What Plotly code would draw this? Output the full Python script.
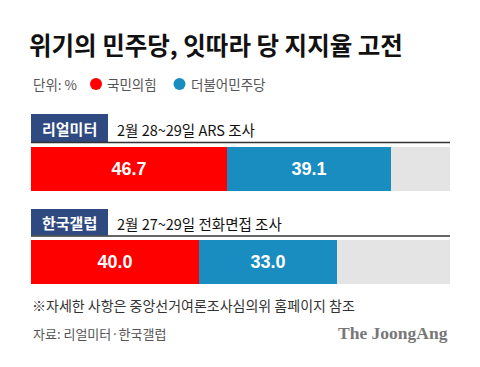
import plotly.graph_objects as go

# ---- data ----
pollsters = ["리얼미터", "한국갤럽"]
survey_notes = ["2월 28~29일 ARS 조사", "2월 27~29일 전화면접 조사"]
ppp = [46.7, 40.0]        # 국민의힘
dpk = [39.1, 33.0]        # 더불어민주당
rest = [round(100 - a - b, 1) for a, b in zip(ppp, dpk)]

title = "위기의 민주당, 잇따라 당 지지율 고전"
unit_label = "단위: %"
series_names = ["국민의힘", "더불어민주당"]
footnote = "※자세한 사항은 중앙선거여론조사심의위 홈페이지 참조"
source = "자료: 리얼미터·한국갤럽"
brand = "The JoongAng"

RED = "#FF0000"
BLUE = "#1A8DC0"
GRAY = "#E4E4E4"
NAVY = "#2F4A80"

W, H = 480, 367
KFONT = "Noto Sans CJK KR"

def py(p):  # pixel-from-top -> paper y
    return 1 - p / H

def px(p):
    return p / W

x0, x1 = 31, 450
c0, c1 = 169, 262.5
step = c1 - c0
ytop = c0 - step / 2
ybot = c1 + step / 2

fig = go.Figure()
fig.add_trace(go.Bar(y=pollsters, x=ppp, orientation="h", name=series_names[0],
                     marker=dict(color=RED, line=dict(width=0)),
                     text=[f"{v:.1f}" for v in ppp], textposition="inside",
                     insidetextanchor="middle",
                     textfont=dict(color="white", size=18, family="Liberation Sans", weight="bold"),
                     width=0.47))
fig.add_trace(go.Bar(y=pollsters, x=dpk, orientation="h", name=series_names[1],
                     marker=dict(color=BLUE, line=dict(width=0)),
                     text=[f"{v:.1f}" for v in dpk], textposition="inside",
                     insidetextanchor="middle",
                     textfont=dict(color="white", size=18, family="Liberation Sans", weight="bold"),
                     width=0.47))
fig.add_trace(go.Bar(y=pollsters, x=rest, orientation="h", name="기타",
                     marker=dict(color=GRAY, line=dict(width=0)),
                     hoverinfo="skip", width=0.47))

shapes = []
annotations = []

# title
annotations.append(dict(x=px(27), y=py(44), xref="paper", yref="paper", text=title,
                        showarrow=False, xanchor="left", yanchor="middle",
                        font=dict(family=KFONT, size=24.5, color="#111111", weight="bold")))
# legend row
annotations.append(dict(x=px(31), y=py(84), xref="paper", yref="paper", text=unit_label,
                        showarrow=False, xanchor="left", yanchor="middle",
                        font=dict(family=KFONT, size=13.5, color="#555555")))
for cx, col, name in [(96, RED, series_names[0]), (179.5, BLUE, series_names[1])]:
    shapes.append(dict(type="circle", xref="paper", yref="paper",
                       x0=px(cx - 6), x1=px(cx + 6), y0=py(84 + 6), y1=py(84 - 6),
                       fillcolor=col, line=dict(width=0)))
    annotations.append(dict(x=px(cx + 9), y=py(84), xref="paper", yref="paper", text=name,
                            showarrow=False, xanchor="left", yanchor="middle",
                            font=dict(family=KFONT, size=13.5, color="#555555")))

# section headers
for i, (name, note) in enumerate(zip(pollsters, survey_notes)):
    btop = [114, 209][i]
    bbot = [142, 235.5][i]
    shapes.append(dict(type="rect", xref="paper", yref="paper",
                       x0=px(31), x1=px(108), y0=py(bbot), y1=py(btop),
                       fillcolor=NAVY, line=dict(width=0)))
    shapes.append(dict(type="line", xref="paper", yref="paper",
                       x0=px(31), x1=px(450), y0=py(bbot + 0.5), y1=py(bbot + 0.5),
                       line=dict(color="#333333", width=1.5)))
    annotations.append(dict(x=px(69.5), y=py((btop + bbot) / 2), xref="paper", yref="paper",
                            text=name, showarrow=False, xanchor="center", yanchor="middle",
                            font=dict(family=KFONT, size=15, color="white", weight="bold")))
    annotations.append(dict(x=px(115), y=py((btop + bbot) / 2 + 1), xref="paper", yref="paper",
                            text=note, showarrow=False, xanchor="left", yanchor="middle",
                            font=dict(family=KFONT, size=14.5, color="#111111")))

# footnote and source
annotations.append(dict(x=px(30), y=py(305), xref="paper", yref="paper", text=footnote,
                        showarrow=False, xanchor="left", yanchor="middle",
                        font=dict(family=KFONT, size=14, color="#333333")))
annotations.append(dict(x=px(31), y=py(333), xref="paper", yref="paper", text=source,
                        showarrow=False, xanchor="left", yanchor="middle",
                        font=dict(family=KFONT, size=13, color="#555555")))
annotations.append(dict(x=px(450), y=py(333), xref="paper", yref="paper", text=brand,
                        showarrow=False, xanchor="right", yanchor="middle",
                        font=dict(family="Liberation Serif", size=17.5, color="#777777", weight="bold")))

fig.update_layout(
    width=W, height=H, margin=dict(l=0, r=0, t=0, b=0),
    paper_bgcolor="white", plot_bgcolor="white",
    barmode="stack", bargap=0, showlegend=False,
    xaxis=dict(range=[0, 100], domain=[px(x0), px(x1)], visible=False, fixedrange=True),
    yaxis=dict(categoryorder="array", categoryarray=pollsters, autorange="reversed",
               domain=[py(ybot), py(ytop)], visible=False, fixedrange=True),
    shapes=shapes, annotations=annotations,
    uniformtext=dict(mode=False),
)

fig.write_html("out.html")
